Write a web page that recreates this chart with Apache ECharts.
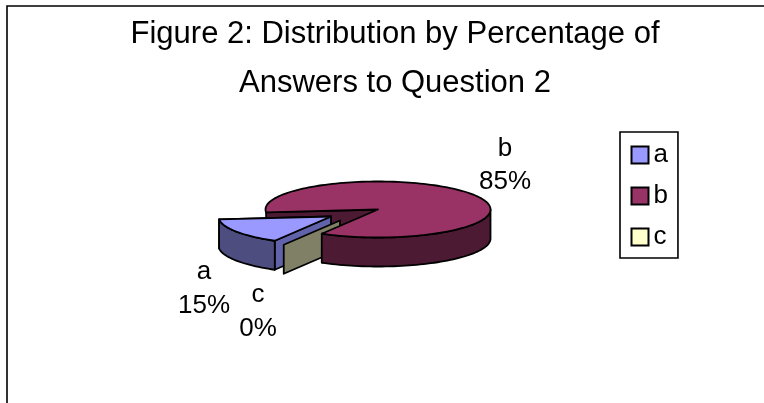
<!DOCTYPE html>
<html><head><meta charset="utf-8">
<style>html,body{margin:0;padding:0;background:#fff}#c{width:764px;height:403px}</style>
<script src="https://cdn.jsdelivr.net/npm/echarts@6/dist/echarts.min.js"></script>
</head><body><div id="c"></div>
<script>
var categories = ['a', 'b', 'c'];
var values = [15, 85, 0];
var percentLabels = ['15%', '85%', '0%'];
var titleLines = ['Figure 2: Distribution by Percentage of', 'Answers to Question 2'];

var FONT = '"Liberation Sans", Arial, sans-serif';
var topColors = ['#9999ff', '#993366', '#ffffcc'];
var sideColors = ['#4d4d80', '#4d1a33', '#808066'];
var cutColors = ['#6063aa', '#4d1a33', '#808066'];
var G = {cx: 378, cy: 209.5, rx: 112.5, ry: 28, depth: 29, startDeg: 120};
var offsets = [[-47, 7], [0, 0], [-38, 11]];
var labelPos = [[204, 272, 306], [505, 149, 182], [258, 295, 329]];

var total = values.reduce(function (s, v) { return s + v; }, 0);
var spans = [], acc = G.startDeg;
values.forEach(function (v) {
  var d = v / total * 360;
  spans.push([acc, acc + d]);
  acc += d;
});
function pt(i, deg, dz) {
  var t = deg * Math.PI / 180;
  return [G.cx + offsets[i][0] + G.rx * Math.cos(t), G.cy + offsets[i][1] + G.ry * Math.sin(t) + (dz || 0)];
}
function centre(i, dz) { return [G.cx + offsets[i][0], G.cy + offsets[i][1] + (dz || 0)]; }
function arc(i, a, b, dz) {
  var out = [], n = Math.max(2, Math.ceil(Math.abs(b - a) / 2));
  for (var k = 0; k <= n; k++) out.push(pt(i, a + (b - a) * k / n, dz));
  return out;
}
function poly(points, fill, z2) {
  return {type: 'polygon', z2: z2, shape: {points: points},
    style: {fill: fill, stroke: '#000', lineWidth: 1.8, lineJoin: 'round'}};
}
function wall(i, deg, fill, z2) {
  var o = pt(i, deg), c = centre(i);
  return poly([c, o, pt(i, deg, G.depth), centre(i, G.depth)], fill, z2);
}
function textEl(str, x, y) {
  return {type: 'text', z2: 50, style: {text: str, x: x, y: y, fill: '#000',
    font: '26px ' + FONT, textAlign: 'center', textVerticalAlign: 'middle'}};
}
function sliceRender(i) {
  return function () {
    var s = spans[i], els = [];
    if (i === 0) {            // a: sits in the gap, in front of b's back wall
      els.push(wall(0, s[1], cutColors[0], 3));
      els.push(wall(0, s[0], cutColors[0], 4));
      var lo = arc(0, s[0], s[1], 0), hi = arc(0, s[1], s[0], G.depth);
      els.push(poly(lo.concat(hi), sideColors[0], 5));
      els.push(poly([centre(0)].concat(arc(0, s[0], s[1])), topColors[0], 6));
    } else if (i === 2) {     // c: zero-width slice, only its cut wall shows
      els.push(wall(2, s[0], sideColors[2], 7));
    } else {                  // b
      els.push(wall(1, s[0], cutColors[1], 1));
      var end = s[1];
      var a1 = arc(1, 360, end, 0), a2 = arc(1, end, 360, G.depth);
      els.push(poly(a1.concat(a2), sideColors[1], 8));
      els.push(poly([centre(1)].concat(arc(1, s[0], end)), topColors[1], 9));
    }
    els.push(textEl(categories[i], labelPos[i][0], labelPos[i][1]));
    els.push(textEl(percentLabels[i], labelPos[i][0], labelPos[i][2]));
    return {type: 'group', children: els};
  };
}
var chart = echarts.init(document.getElementById('c'), null, {renderer: 'canvas'});
chart.setOption({
  animation: false,
  backgroundColor: '#fff',
  title: {
    text: titleLines.join('\n'), left: 390, top: 5, textAlign: 'center',
    textStyle: {fontFamily: FONT, fontSize: 31, fontWeight: 'normal', color: '#000', lineHeight: 49}
  },
  legend: {
    left: 620, top: 132, orient: 'vertical', icon: 'rect',
    padding: [10, 10, 8, 10.5], itemWidth: 17, itemHeight: 17, itemGap: 15,
    borderColor: '#000', borderWidth: 1.6, data: categories,
    selectedMode: false,
    textStyle: {fontFamily: FONT, fontSize: 26, lineHeight: 26, color: '#000'}
  },
  graphic: [
    {type: 'polyline', z: 0, shape: {points: [[7, 403], [7, 6], [764, 6]]},
     style: {stroke: '#000', lineWidth: 1.6, fill: 'none'}}
  ],
  series: categories.map(function (name, i) {
    return {type: 'custom', name: name, coordinateSystem: 'none',
      itemStyle: {color: topColors[i], borderColor: '#000', borderWidth: 2},
      renderItem: sliceRender(i), data: [values[i]], silent: true};
  })
});
</script></body></html>
